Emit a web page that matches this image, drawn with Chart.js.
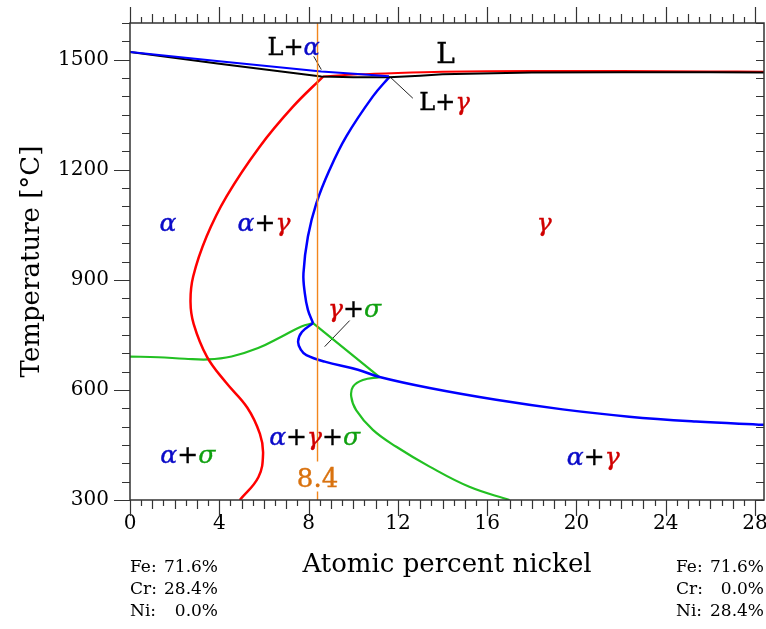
<!DOCTYPE html>
<html>
<head>
<meta charset="utf-8">
<script src="https://cdn.jsdelivr.net/npm/chart.js@4.4.0/dist/chart.umd.min.js"></script>
<style>
  html, body { margin: 0; padding: 0; background: #fff; }
  .wrap { width: 766px; height: 629px; }
</style>
</head>
<body>
<div class="wrap"><canvas id="phase"></canvas></div>
<script>
// axis ticks
const niTicks = [0, 4, 8, 12, 16, 20, 24, 28];
const tempTicks = [300, 600, 900, 1200, 1500];

// L / L+alpha boundary (blue, top left)
const alphaLiqNi = [0, 4, 8.57, 10.2, 11.6];
const alphaLiqT = [1521, 1496, 1468, 1461, 1455];

// black liquidus
const blackLiqNi = [0, 4, 8.57, 10, 11.6, 13, 14, 18, 22, 26, 28.4];
const blackLiqT = [1521, 1489, 1454, 1452, 1452, 1456, 1460, 1465, 1466, 1466, 1465];

// L / L+gamma boundary (red, top)
const gammaLiqNi = [8.65, 10.2, 12, 14, 18, 22, 26, 28.4];
const gammaLiqT = [1454, 1460, 1464, 1467, 1469, 1469, 1468, 1467];

// alpha / alpha+gamma (red)
const alphaSolvusNi = [8.65, 7.30, 5.81, 4.32, 3.43, 2.83, 2.71, 2.85, 3.45, 4.30, 5.25, 5.82, 5.96, 5.75, 4.92];
const alphaSolvusT = [1454, 1372, 1263, 1127, 1018, 909, 840, 780, 690, 620, 552, 480, 425, 362, 300];

// gamma / alpha+gamma (blue), upper branch down to the sigma corner
const gammaUpperNi = [11.63, 10.88, 9.69, 8.94, 8.35, 7.97, 7.77, 7.83, 7.97, 8.20];
const gammaUpperT = [1454, 1400, 1291, 1200, 1109, 1018, 918, 864, 818, 782];
// lower branch
const gammaLowerNi = [8.20, 7.70, 7.53, 7.65, 7.90, 8.72, 10.21, 11.18, 13.42, 16.4, 19.38, 22.36, 25.35, 28.4];
const gammaLowerT = [782, 758, 732, 710, 695, 677, 655, 635, 605, 573, 547, 527, 514, 505];

// sigma boundaries (green)
const sigmaLeftNi = [0, 1.27, 2.46, 3.50, 4.55, 5.74, 6.78, 7.68, 8.20];
const sigmaLeftT = [691, 689, 685, 683, 691, 714, 745, 773, 782];
const sigmaTieNi = [8.20, 11.18];
const sigmaTieT = [782, 635];
const sigmaRightNi = [11.18, 10.43, 9.99, 9.91, 10.13, 10.88, 11.93, 13.42, 15.2, 17.0];
const sigmaRightT = [635, 627, 609, 582, 545, 491, 445, 391, 336, 300];

// isopleth section
const sectionNi = 8.4;

const BLUE = '#0b0bc8', RED = '#d00000', GREEN = '#10a010', INK = '#000';
const SERIF = '"DejaVu Serif", "Liberation Serif", serif';

const pts = (xs, ys) => xs.map((v, i) => ({ x: v, y: ys[i] }));

function curve(xs, ys, color, width, tension) {
  return {
    data: pts(xs, ys),
    showLine: true,
    borderColor: color,
    borderWidth: width,
    pointRadius: 0,
    fill: false,
    tension: tension
  };
}

// region labels: [text, colour] runs, anchored at centre x / baseline
const regionLabels = [
  { ni: 7.33, t: 1513, size: 24, runs: [['L', INK], ['+', INK], ['α', BLUE]] },
  { ni: 14.13, t: 1491, size: 28, runs: [['L', INK]] },
  { ni: 14.09, t: 1364, size: 24, runs: [['L', INK], ['+', INK], ['γ', RED]] },
  { ni: 1.70, t: 1034, size: 25, runs: [['α', BLUE]] },
  { ni: 6.0, t: 1034, size: 25, runs: [['α', BLUE], ['+', INK], ['γ', RED]] },
  { ni: 18.56, t: 1034, size: 25, runs: [['γ', RED]] },
  { ni: 10.06, t: 800, size: 25, runs: [['γ', RED], ['+', INK], ['σ', GREEN]] },
  { ni: 2.59, t: 401, size: 25, runs: [['α', BLUE], ['+', INK], ['σ', GREEN]] },
  { ni: 8.27, t: 450, size: 25, runs: [['α', BLUE], ['+', INK], ['γ', RED], ['+', INK], ['σ', GREEN]] },
  { ni: 20.75, t: 395, size: 25, runs: [['α', BLUE], ['+', INK], ['γ', RED]] },
  { ni: 8.4, t: 336, size: 26, runs: [['8.4', '#d9720f']] }
];

const compositions = [
  { side: 'left', rows: [['Fe:', '71.6%'], ['Cr:', '28.4%'], ['Ni:', '0.0%']] },
  { side: 'right', rows: [['Fe:', '71.6%'], ['Cr:', '0.0%'], ['Ni:', '28.4%']] }
];

const greek = /[αγσ]/;

const labelsPlugin = {
  id: 'regionLabels',
  afterDatasetsDraw(chart) {
    const { ctx, scales: { x, y } } = chart;
    ctx.save();
    ctx.textBaseline = 'alphabetic';
    regionLabels.forEach(lab => {
      const fontFor = s => (greek.test(s) ? 'italic ' : '') + lab.size + 'px ' + SERIF;
      let w = 0;
      lab.runs.forEach(r => { ctx.font = fontFor(r[0]); w += ctx.measureText(r[0]).width; });
      let px = x.getPixelForValue(lab.ni) - w / 2;
      const py = y.getPixelForValue(lab.t);
      lab.runs.forEach(r => {
        ctx.font = fontFor(r[0]);
        ctx.fillStyle = r[1];
        ctx.strokeStyle = r[1];
        ctx.lineWidth = 0.4;
        ctx.fillText(r[0], px, py);
        ctx.strokeText(r[0], px, py);
        px += ctx.measureText(r[0]).width;
      });
    });
    ctx.restore();
  },
  afterDraw(chart) {
    const { ctx, chartArea: a } = chart;
    ctx.save();
    ctx.font = '17px ' + SERIF;
    ctx.fillStyle = INK;
    ctx.textBaseline = 'middle';
    compositions.forEach(c => {
      const left = c.side === 'left' ? a.left : a.right - 88;
      c.rows.forEach((row, i) => {
        const py = 568 + i * 22;
        ctx.textAlign = 'left';
        ctx.fillText(row[0], left, py);
        ctx.textAlign = 'right';
        ctx.fillText(row[1], left + 88, py);
      });
    });
    ctx.restore();
  }
};

// frame and minor ticks on all four sides
const framePlugin = {
  id: 'frameTicks',
  afterDraw(chart) {
    const { ctx, chartArea: a, scales: { x, y } } = chart;
    ctx.save();
    ctx.strokeStyle = '#333';
    ctx.lineWidth = 1.5;
    ctx.strokeRect(a.left, a.top, a.right - a.left, a.bottom - a.top);
    ctx.lineWidth = 1.2;
    ctx.beginPath();
    for (let i = 0; i <= 56; i++) {
      const v = i * 0.5;
      const px = Math.round(x.getPixelForValue(v)) + 0.5;
      const len = v % 4 === 0 ? 16 : (i % 2 === 0 ? 9 : 6);
      ctx.moveTo(px, a.bottom); ctx.lineTo(px, a.bottom + len);
      ctx.moveTo(px, a.top); ctx.lineTo(px, a.top - len);
    }
    for (let t = 300; t <= 1600; t += 50) {
      const py = Math.round(y.getPixelForValue(t)) + 0.5;
      const major = t % 300 === 0;
      ctx.moveTo(a.left, py); ctx.lineTo(a.left - (major ? 16 : 8), py);
      ctx.moveTo(a.right, py); ctx.lineTo(a.right - 8, py);
    }
    ctx.stroke();
    ctx.restore();
  }
};

// fixed scale boxes, no extra room for overhanging tick labels
function fixBox(size, horizontal) {
  return s => {
    if (horizontal) s.height = size; else s.width = size;
    s.paddingLeft = s.paddingRight = s.paddingTop = s.paddingBottom = 0;
  };
}

const ORANGE = '#f2861c';

new Chart(document.getElementById('phase'), {
  type: 'scatter',
  data: {
    datasets: [
      curve([sectionNi, sectionNi], [1600, 405], ORANGE, 1.4, 0),
      curve([sectionNi, sectionNi], [323, 300], ORANGE, 1.4, 0),
      curve(alphaLiqNi, alphaLiqT, '#0000ff', 2, 0),
      curve(blackLiqNi, blackLiqT, INK, 2, 0),
      curve(gammaLiqNi, gammaLiqT, '#ff0000', 2, 0.3),
      curve(alphaSolvusNi, alphaSolvusT, '#ff0000', 2.5, 0.4),
      curve(gammaUpperNi, gammaUpperT, '#0000ff', 2.5, 0.4),
      curve(gammaLowerNi, gammaLowerT, '#0000ff', 2.5, 0.4),
      curve(sigmaLeftNi, sigmaLeftT, '#22c022', 2.2, 0.4),
      curve(sigmaTieNi, sigmaTieT, '#22c022', 2.2, 0),
      curve(sigmaRightNi, sigmaRightT, '#22c022', 2.2, 0.4),
      // leader lines
      curve([8.23, 8.57], [1509, 1473], '#222', 1, 0),
      curve([11.63, 12.67], [1454, 1395], '#222', 1, 0),
      curve([9.84, 8.72], [789, 718], '#222', 1, 0)
    ]
  },
  options: {
    responsive: true,
    maintainAspectRatio: false,
    animation: false,
    layout: { padding: { top: 23, right: 2, left: 0, bottom: 0 } },
    plugins: { legend: { display: false }, tooltip: { enabled: false } },
    scales: {
      x: {
        type: 'linear',
        min: 0,
        max: 28.4,
        afterBuildTicks: s => { s.ticks = niTicks.map(v => ({ value: v })); },
        afterFit: fixBox(129, true),
        grid: { display: false, drawTicks: false },
        border: { display: false },
        ticks: { color: INK, font: { family: SERIF, size: 20 }, padding: 12, maxRotation: 0, callback: v => String(v) },
        title: {
          display: true,
          text: 'Atomic percent nickel',
          color: INK,
          font: { family: SERIF, size: 26 },
          padding: { top: 0, bottom: 48 }
        }
      },
      y: {
        type: 'linear',
        min: 300,
        max: 1600,
        afterBuildTicks: s => { s.ticks = tempTicks.map(v => ({ value: v })); },
        afterFit: fixBox(130, false),
        grid: { display: false, drawTicks: false },
        border: { display: false },
        ticks: { color: INK, font: { family: SERIF, size: 20 }, padding: 21, callback: v => String(v) },
        title: {
          display: true,
          text: 'Temperature [°C]',
          color: INK,
          font: { family: SERIF, size: 26 },
          padding: { top: 17, bottom: 0 }
        }
      }
    }
  },
  plugins: [labelsPlugin, framePlugin]
});
</script>
</body>
</html>
